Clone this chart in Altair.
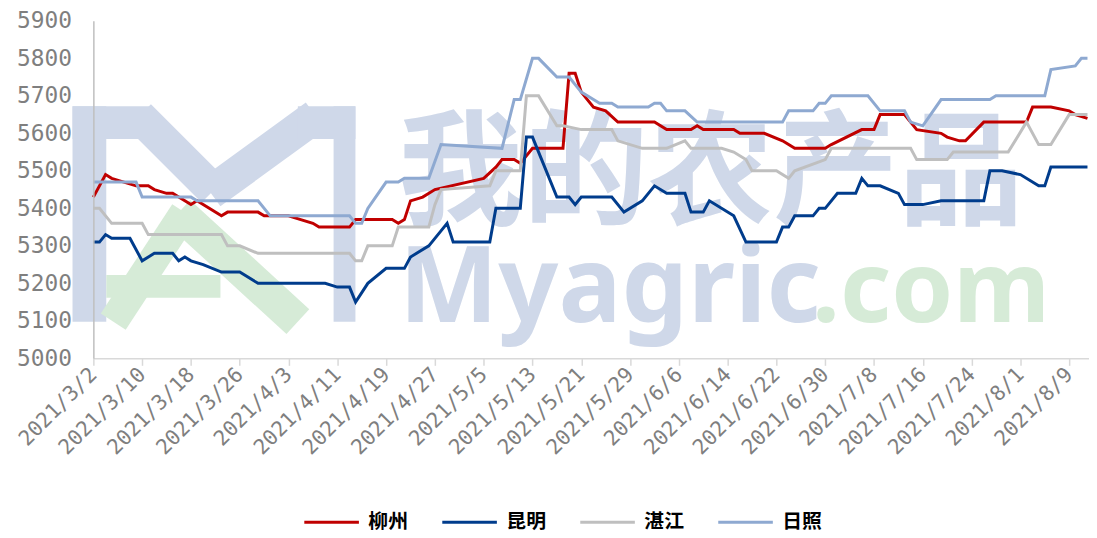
import altair as alt
import pandas as pd

# ---------------- data ----------------
start_date = "2021-03-02"

series_names = ["柳州", "昆明", "湛江", "日照"]
series_colors = ["#C00000", "#003C8C", "#BFBFBF", "#8EA9D1"]

# days since 2021/3/2 and price (元/吨) at each vertex of the line
liuzhou_day = [0, 2, 3, 5, 7, 9, 10, 12, 13, 15, 16, 17, 19, 21, 22, 27, 28, 32, 34, 36,
               37, 42, 43, 49, 50, 51, 52, 54, 56, 64, 66, 67, 69, 70, 72, 77, 78, 79, 80, 82,
               84, 86, 92, 94, 98, 99, 100, 105, 106, 110, 113, 114, 115, 120, 121, 126, 128, 129, 133, 135,
               139, 140, 142, 143, 146, 153, 154, 157, 160, 161, 163]
liuzhou_price = [5430, 5490, 5480, 5470, 5460, 5460, 5450, 5440, 5440, 5420, 5410, 5420, 5400, 5380, 5390, 5390, 5380, 5380, 5370, 5360,
                 5350, 5350, 5370, 5370, 5360, 5370, 5420, 5430, 5450, 5480, 5510, 5530, 5530, 5520, 5560, 5560, 5760, 5760, 5710, 5670,
                 5660, 5630, 5630, 5610, 5610, 5620, 5610, 5610, 5600, 5600, 5580, 5570, 5560, 5560, 5570, 5610, 5610, 5650, 5650, 5610,
                 5600, 5590, 5580, 5580, 5630, 5630, 5670, 5670, 5660, 5650, 5640]

kunming_day = [0, 1, 2, 3, 6, 8, 10, 13, 14, 15, 16, 18, 21, 24, 27, 38, 40, 42, 43, 45,
               48, 51, 52, 53, 55, 57, 58, 59, 65, 66, 70, 71, 72, 76, 78, 79, 80, 85, 87, 90,
               92, 94, 97, 98, 100, 101, 105, 107, 112, 113, 114, 115, 118, 119, 120, 122, 125, 126, 127, 129,
               132, 133, 136, 139, 146, 147, 149, 152, 155, 156, 157, 163]
kunming_price = [5310, 5310, 5330, 5320, 5320, 5260, 5280, 5280, 5260, 5270, 5260, 5250, 5230, 5230, 5200, 5200, 5190, 5190, 5150, 5200,
                 5240, 5240, 5270, 5280, 5300, 5340, 5360, 5310, 5310, 5400, 5400, 5590, 5590, 5430, 5430, 5410, 5430, 5430, 5390, 5420,
                 5460, 5440, 5440, 5390, 5390, 5420, 5380, 5310, 5310, 5350, 5350, 5380, 5380, 5400, 5400, 5440, 5440, 5480, 5460, 5460,
                 5440, 5410, 5410, 5420, 5420, 5500, 5500, 5490, 5460, 5460, 5510, 5510]

zhanjiang_day = [0, 1, 3, 8, 9, 21, 22, 24, 27, 42, 43, 44, 45, 49, 50, 55, 56, 57, 65, 66,
                 70, 71, 73, 76, 77, 80, 85, 86, 90, 94, 97, 98, 103, 105, 107, 108, 112, 114, 115, 120,
                 121, 134, 135, 140, 141, 150, 153, 155, 157, 160, 163]
zhanjiang_price = [5400, 5400, 5360, 5360, 5330, 5330, 5300, 5300, 5280, 5280, 5260, 5260, 5300, 5300, 5350, 5350, 5410, 5450, 5460, 5500,
                   5500, 5700, 5700, 5620, 5620, 5610, 5610, 5580, 5560, 5560, 5580, 5560, 5560, 5550, 5530, 5500, 5500, 5480, 5500, 5530,
                   5560, 5560, 5530, 5530, 5550, 5550, 5630, 5570, 5570, 5650, 5650]

rizhao_day = [0, 7, 8, 16, 17, 27, 29, 42, 43, 44, 45, 48, 50, 51, 55, 57, 67, 69, 70, 72,
              73, 76, 78, 80, 81, 83, 85, 86, 91, 92, 93, 94, 97, 99, 113, 114, 118, 119, 120, 121,
              127, 129, 133, 134, 136, 139, 147, 148, 156, 157, 161, 162, 163]
rizhao_price = [5470, 5470, 5430, 5430, 5420, 5420, 5380, 5380, 5360, 5360, 5400, 5470, 5470, 5480, 5480, 5570, 5560, 5690, 5690, 5800,
                5800, 5750, 5750, 5710, 5700, 5680, 5680, 5670, 5670, 5680, 5680, 5660, 5660, 5630, 5630, 5660, 5660, 5680, 5680, 5700,
                5700, 5660, 5660, 5630, 5620, 5690, 5690, 5700, 5700, 5770, 5780, 5800, 5800]

tick_labels = ["2021/3/2", "2021/3/10", "2021/3/18", "2021/3/26", "2021/4/3", "2021/4/11",
               "2021/4/19", "2021/4/27", "2021/5/5", "2021/5/13", "2021/5/21", "2021/5/29",
               "2021/6/6", "2021/6/14", "2021/6/22", "2021/6/30", "2021/7/8", "2021/7/16",
               "2021/7/24", "2021/8/1", "2021/8/9"]
y_ticks = [5000, 5100, 5200, 5300, 5400, 5500, 5600, 5700, 5800, 5900]

# ---------------- build table ----------------
t0 = pd.Timestamp(start_date)
frames = []
for name, days, prices in zip(series_names,
                              [liuzhou_day, kunming_day, zhanjiang_day, rizhao_day],
                              [liuzhou_price, kunming_price, zhanjiang_price, rizhao_price]):
    dates = [(t0 + pd.Timedelta(days=d)).strftime("%Y-%m-%d") for d in days]
    frames.append(pd.DataFrame({"date": dates, "price": prices, "city": name}))
df = pd.concat(frames, ignore_index=True)


def ms(ts):
    return int(pd.Timestamp(ts, tz="UTC").timestamp() * 1000)


tick_values = [ms(pd.Timestamp(s.replace("/", "-"))) for s in tick_labels]
x_domain = [ms("2021-03-02"), ms("2021-08-12 06:00")]

GRAY_TXT = "#7F7F7F"

x_enc = alt.X("date:T",
              scale=alt.Scale(type="utc", domain=x_domain),
              axis=alt.Axis(values=tick_values,
                            labelExpr="utcFormat(datum.value, '%Y/%-m/%-d')",
                            labelAngle=-45, labelAlign="right", labelBaseline="middle",
                            labelFont="DejaVu Sans Mono", labelFontSize=21, labelColor=GRAY_TXT,
                            labelPadding=6, labelOverlap=False, labelFlush=False,
                            domainColor="#D9D9D9", domainWidth=1.5,
                            tickColor="#D9D9D9", tickSize=7, tickWidth=1.5,
                            grid=False, title=None, zindex=1))
y_enc = alt.Y("price:Q",
              scale=alt.Scale(domain=[5000, 5900], nice=False, zero=False),
              axis=alt.Axis(values=y_ticks, format="d", labelFont="DejaVu Sans Mono", labelFontSize=23,
                            labelColor=GRAY_TXT, labelPadding=22, tickSize=0, ticks=False,
                            domainColor="#BFBFBF", domainWidth=1.5, grid=False, title=None,
                            zindex=1))

lines = alt.Chart(df).mark_line(strokeWidth=3, interpolate="linear").encode(
    x=x_enc, y=y_enc,
    color=alt.Color("city:N",
                    scale=alt.Scale(domain=series_names, range=series_colors),
                    sort=series_names,
                    legend=alt.Legend(orient="none", legendX=211, legendY=476,
                                      direction="horizontal", title=None,
                                      symbolType="stroke", symbolSize=3025, symbolStrokeWidth=3,
                                      labelFont="Noto Sans CJK SC", labelFontSize=20,
                                      labelFontWeight="bold", labelColor="#000000",
                                      labelOffset=8, columnPadding=28, padding=0)),
)

# ---------------- watermark (decoration, pixel placed) ----------------
WM_BLUE = "#CFD8E9"
WM_GREEN = "#D6EBD7"
one = pd.DataFrame({"k": [0]})


def band(x1, y1, x2, y2, w, color):
    # thick stroke of the logo; page pixel coords -> plot coords (origin 94, 19)
    return alt.Chart(one).mark_rule(strokeWidth=w, color=color, strokeCap="butt").encode(
        x=alt.value(x1 - 94), y=alt.value(y1 - 19), x2=alt.value(x2 - 94), y2=alt.value(y2 - 19))


logo = [
    band(90, 105, 90, 322, 34, WM_BLUE),
    band(73, 121.5, 150, 121.5, 33, WM_BLUE),
    band(140, 115, 215, 190, 34, WM_BLUE),
    band(212, 192, 318, 115, 34, WM_BLUE),
    band(300, 121.5, 358, 121.5, 33, WM_BLUE),
    band(347, 105, 347, 322, 22, WM_BLUE),
    band(114, 322, 186, 212, 30, WM_GREEN),
    band(180, 212, 300, 322, 34, WM_GREEN),
    band(107, 286.5, 222, 286.5, 23, WM_GREEN),
]

wm_cn = alt.Chart(pd.DataFrame({"t": ["我的农产品"]})).mark_text(
    font="Noto Sans CJK SC", fontSize=126, fontWeight="bold", color=WM_BLUE,
    align="center", baseline="middle").encode(text="t:N", x=alt.value(622), y=alt.value(158))
wm_en = alt.Chart(pd.DataFrame({"t": ["Myagric"]})).mark_text(
    font="Noto Sans", fontSize=106, fontWeight="bold", color=WM_BLUE,
    align="left", baseline="alphabetic").encode(text="t:N", x=alt.value(308), y=alt.value(303))
wm_com = alt.Chart(pd.DataFrame({"t": [".com"]})).mark_text(
    font="Noto Sans", fontSize=100, fontWeight="bold", color=WM_GREEN,
    align="left", baseline="alphabetic").encode(text="t:N", x=alt.value(724), y=alt.value(303))

chart = alt.layer(*logo, wm_cn, wm_en, wm_com, lines).properties(
    width=1003, height=340,
    autosize=alt.AutoSizeParams(type="none"),
    padding={"left": 86, "top": 11, "right": 0, "bottom": 176},
    background="white",
).configure_view(stroke=None)

chart.save("out.html", embed_options={"renderer": "svg", "actions": False})
